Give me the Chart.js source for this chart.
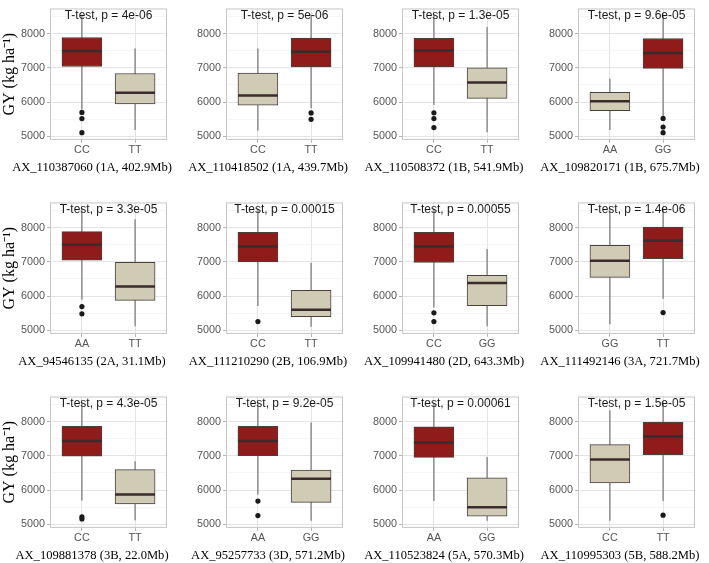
<!DOCTYPE html>
<html>
<head>
<meta charset="utf-8">
<script src="https://cdn.jsdelivr.net/npm/chart.js@4.4.1/dist/chart.umd.min.js"></script>
<style>
  html, body { margin: 0; padding: 0; background: #fff; overflow: hidden; }
  #wrap { position: relative; width: 709px; height: 563px; overflow: hidden; }
  #wrap canvas { position: absolute; }
</style>
</head>
<body>
<div id="wrap"></div>
<script>
// ---- data (one entry per panel, left->right, top->bottom) ----
const markers = [
  'AX_110387060 (1A, 402.9Mb)', 'AX_110418502 (1A, 439.7Mb)', 'AX_110508372 (1B, 541.9Mb)', 'AX_109820171 (1B, 675.7Mb)',
  'AX_94546135 (2A, 31.1Mb)', 'AX_111210290 (2B, 106.9Mb)', 'AX_109941480 (2D, 643.3Mb)', 'AX_111492146 (3A, 721.7Mb)',
  'AX_109881378 (3B, 22.0Mb)', 'AX_95257733 (3D, 571.2Mb)', 'AX_110523824 (5A, 570.3Mb)', 'AX_110995303 (5B, 588.2Mb)'
];
const pValues = ['4e-06', '5e-06', '1.3e-05', '9.6e-05', '3.3e-05', '0.00015', '0.00055', '1.4e-06', '4.3e-05', '9.2e-05', '0.00061', '1.5e-05'];
const genotypes = [
  ['CC', 'TT'], ['CC', 'TT'], ['CC', 'TT'], ['AA', 'GG'],
  ['AA', 'TT'], ['CC', 'TT'], ['CC', 'GG'], ['GG', 'TT'],
  ['CC', 'TT'], ['AA', 'GG'], ['AA', 'GG'], ['CC', 'TT']
];
// which genotype is the high-yield (red) one
const favourable = [0, 1, 0, 1, 0, 0, 0, 1, 0, 0, 0, 1];

const whiskerLow = [
  [5790, 5185], [5165, 5820], [5915, 5120], [5185, 5600],
  [5895, 5120], [5710, 5110], [5670, 5120], [5180, 5925],
  [5690, 5120], [5865, 5110], [5685, 5110], [5110, 5685]
];
const quartile1 = [
  [7040, 5950], [5915, 7030], [7030, 6110], [5755, 6985],
  [7050, 5875], [6995, 5405], [6980, 5720], [6545, 7090],
  [6990, 5600], [7005, 5645], [6955, 5240], [6210, 7035]
];
const medians = [
  [7490, 6275], [6190, 7470], [7505, 6570], [6025, 7435],
  [7495, 6280], [7445, 5600], [7450, 6380], [7035, 7615],
  [7430, 5875], [7430, 6330], [7390, 5500], [6890, 7565]
];
const quartile3 = [
  [7885, 6835], [6845, 7870], [7860, 7000], [6285, 7855],
  [7880, 6985], [7860, 6170], [7860, 6610], [7480, 8015],
  [7860, 6600], [7860, 6585], [7845, 6360], [7325, 7980]
];
const whiskerHigh = [
  [8550, 7560], [7560, 8550], [8550, 8190], [6680, 8550],
  [8550, 8240], [8550, 6975], [8550, 7375], [8550, 8550],
  [8550, 6845], [8550, 7970], [8550, 6965], [8325, 8550]
];
const outliers = [
  [[5700, 5520, 5110], []], [[], [5685, 5500]], [[5690, 5520, 5260], []], [[], [5525, 5275, 5110]],
  [[5695, 5485], []], [[5260], []], [[5515, 5260], []], [[], [5520]],
  [[5225, 5160], []], [[5680, 5260], []], [[], []], [[], [5270]]
];

const yTickLabels = [5000, 6000, 7000, 8000];
const yGridValues = [5000, 5500, 6000, 6500, 7000, 7500, 8000, 8500];
const yTitle = 'GY (kg ha\u207B\u00B9)';

// ---- styling ----
const RED = '#8f1b1b';
const BEIGE = '#d0cbb4';
const BOX_HALF = 0.375;
const colLeft = [0, 176, 352, 528];
const rowTop = [0, 194, 388];

// panel frame + t-test label
const annot = {
  id: 'annot',
  afterDatasetsDraw(chart, args, opts) {
    const { ctx, chartArea: a } = chart;
    ctx.save();
    ctx.strokeStyle = '#c6c6c6';
    ctx.lineWidth = 1;
    ctx.strokeRect(a.left + 0.5, a.top + 0.5, a.right - a.left - 1, a.bottom - a.top - 1);
    ctx.font = '12px "Liberation Sans", Arial, sans-serif';
    ctx.fillStyle = '#1a1a1a';
    ctx.textAlign = 'center';
    ctx.textBaseline = 'middle';
    ctx.fillText(opts.text, (a.left + a.right) / 2, a.top + 7.5);
    ctx.restore();
  }
};

const wrap = document.getElementById('wrap');

markers.forEach((marker, i) => {
  const col = i % 4, row = Math.floor(i / 4);
  const canvas = document.createElement('canvas');
  canvas.width = 184;
  canvas.height = 192;
  canvas.style.left = colLeft[col] + 'px';
  canvas.style.top = rowTop[row] + 'px';
  wrap.appendChild(canvas);

  const fills = [0, 1].map(g => (favourable[i] === g ? RED : BEIGE));

  const whiskers = [];
  const medianLine = [];
  const points = [];
  [0, 1].forEach(g => {
    const x = g + 1;
    whiskers.push({ x: x, y: whiskerLow[i][g] }, { x: x, y: whiskerHigh[i][g] });
    medianLine.push({ x: x - BOX_HALF, y: medians[i][g] }, { x: x + BOX_HALF, y: medians[i][g] });
    if (g === 0) {
      whiskers.push({ x: 1.5, y: null });
      medianLine.push({ x: 1.5, y: null });
    }
    outliers[i][g].forEach(v => points.push({ x: x, y: v }));
  });

  new Chart(canvas, {
    type: 'bar',
    data: {
      datasets: [
        {
          type: 'scatter', data: points, order: 0,
          pointRadius: 2.6, pointBackgroundColor: '#1a1a1a', pointBorderWidth: 0
        },
        {
          type: 'line', data: medianLine, order: 1, spanGaps: false,
          borderColor: '#3b2c2c', borderWidth: 2.5, pointRadius: 0, borderCapStyle: 'butt'
        },
        {
          type: 'bar', order: 2, grouped: false, barThickness: 40,
          data: [{ x: 1, y: [quartile1[i][0], quartile3[i][0]] }, { x: 2, y: [quartile1[i][1], quartile3[i][1]] }],
          backgroundColor: fills, borderColor: '#4a4040', borderWidth: 1, borderSkipped: false
        },
        {
          type: 'line', data: whiskers, order: 3, spanGaps: false,
          borderColor: '#747474', borderWidth: 1.2, pointRadius: 0
        }
      ]
    },
    options: {
      responsive: false,
      animation: false,
      events: [],
      layout: { padding: { top: 1, right: 0, bottom: 0, left: 0 } },
      plugins: {
        legend: { display: false },
        tooltip: { enabled: false },
        annot: { text: 'T-test, p = ' + pValues[i] },
        title: {
          display: true,
          position: 'bottom',
          text: marker,
          color: '#000',
          font: { family: '"Liberation Serif", "Times New Roman", serif', size: 12.6, weight: 'normal' },
          padding: { top: 0, bottom: 17 }
        }
      },
      scales: {
        x: {
          type: 'linear',
          offset: false,
          min: 0.4,
          max: 2.6,
          afterBuildTicks: s => { s.ticks = [{ value: 1 }, { value: 2 }]; },
          afterFit: s => { s.height = 20; },
          ticks: {
            callback: v => genotypes[i][Math.round(v) - 1],
            color: '#555',
            font: { family: '"Liberation Sans", Arial, sans-serif', size: 10.8 },
            padding: 1,
            maxRotation: 0
          },
          grid: { offset: false, color: '#e4e4e4', lineWidth: 1, tickLength: 3, tickColor: '#b3b3b3' },
          border: { display: false }
        },
        y: {
          min: 4900,
          max: 8730,
          afterBuildTicks: s => { s.ticks = yGridValues.map(v => ({ value: v })); },
          afterFit: s => { s.width = 50; },
          ticks: {
            callback: v => (yTickLabels.includes(v) ? String(v) : ''),
            color: '#555',
            font: { family: '"Liberation Sans", Arial, sans-serif', size: 10.8 },
            padding: 2
          },
          grid: {
            color: c => (yTickLabels.includes(c.tick.value) ? '#e4e4e4' : '#f1f1f1'),
            lineWidth: c => (yTickLabels.includes(c.tick.value) ? 1 : 0.7),
            tickLength: 3,
            tickColor: c => (yTickLabels.includes(c.tick.value) ? '#b3b3b3' : 'rgba(0,0,0,0)')
          },
          border: { display: false },
          title: {
            display: col === 0,
            text: yTitle,
            color: '#000',
            font: { family: '"Liberation Serif", "Times New Roman", serif', size: 16 },
            padding: 0
          }
        },
        // empty right-hand spacer so the plot ends where the reference panel ends
        spacer: {
          type: 'linear',
          position: 'right',
          display: true,
          afterFit: s => { s.width = 17; },
          ticks: { display: false },
          grid: { display: false, drawTicks: false },
          border: { display: false }
        }
      }
    },
    plugins: [annot]
  });
});
</script>
</body>
</html>
